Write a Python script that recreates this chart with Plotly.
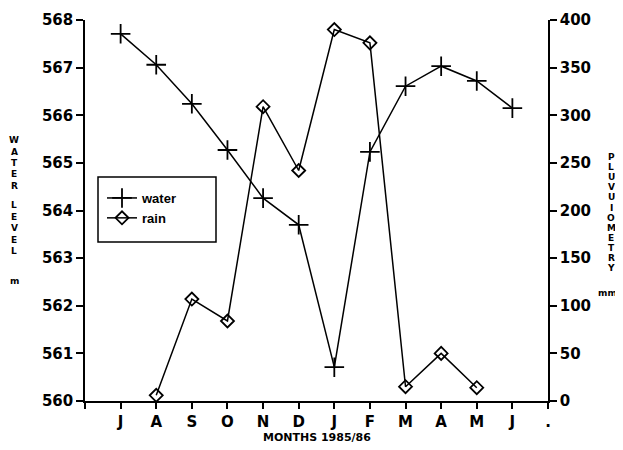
import plotly.graph_objects as go

months = ["J", "A", "S", "O", "N", "D", "J", "F", "M", "A", "M", "J", "."]
month_pos = list(range(1, 14))
water_level = [567.71, 567.06, 566.24, 565.27, 564.26, 563.70, 560.71, 565.23, 566.61, 567.03, 566.72, 566.15]
rain_mm = [None, 6, 107, 84, 309, 242, 390, 376, 15, 50, 14]
water_x = month_pos[:12]
rain_x = month_pos[:11]

FONT = "DejaVu Sans, Liberation Sans, Arial, sans-serif"
FONT2 = "Liberation Sans, Arial, Helvetica, sans-serif"

# page body has an 8px margin: figure is shrunk so the plot lands where the reference has it
OFF = 8
PL, PR, PT, PB = 85, 548, 20, 401  # plot area in page pixels
W, H = 623 - OFF, 450 - OFF

def px(xp):
    return (xp - PL) / (PR - PL)

def py(yp):
    return 1 - (yp - PT) / (PB - PT)

fig = go.Figure()
fig.add_trace(go.Scatter(
    x=water_x, y=water_level, name="water", mode="lines+markers",
    line=dict(color="black", width=1.5),
    marker=dict(symbol="cross-thin", size=14, line=dict(color="black", width=1.8)),
    yaxis="y"))
fig.add_trace(go.Scatter(
    x=rain_x, y=rain_mm, name="rain", mode="lines+markers",
    line=dict(color="black", width=1.5),
    marker=dict(symbol="diamond-open", size=10, color="black", line=dict(color="black", width=1.8)),
    yaxis="y2"))

tickf = dict(family=FONT, size=15, color="black", weight="bold")
fig.update_layout(
    width=W, height=H,
    margin=dict(l=PL - OFF, r=W - (PR - OFF), t=PT - OFF, b=H - (PB - OFF), autoexpand=False),
    paper_bgcolor="white", plot_bgcolor="white",
    font=dict(family=FONT, color="black", size=15),
    showlegend=True,
    legend=dict(x=px(102), y=py(183), xanchor="left", yanchor="top",
                bgcolor="rgba(0,0,0,0)", borderwidth=0,
                font=dict(size=13, family=FONT2, color="black", weight="bold"),
                tracegroupgap=2),
    xaxis=dict(range=[0, 13], tickvals=[0] + month_pos, ticktext=[""] + months,
               showgrid=False, zeroline=False, showline=True, linecolor="black", linewidth=1.5,
               ticks="outside", ticklen=6, tickwidth=1.5, tickcolor="black",
               tickfont=tickf),
    yaxis=dict(range=[560, 568], dtick=1, showgrid=False, zeroline=False,
               showline=True, linecolor="black", linewidth=1.5,
               ticks="outside", ticklen=7, tickwidth=1.5, tickcolor="black",
               tickfont=tickf),
    yaxis2=dict(range=[0, 400], dtick=50, overlaying="y", side="right",
                showgrid=False, zeroline=False, showline=True, linecolor="black", linewidth=1.5,
                ticks="outside", ticklen=7, tickwidth=1.5, tickcolor="black",
                tickfont=tickf),
)

# legend box
fig.add_shape(type="rect", xref="paper", yref="paper",
              x0=px(98), x1=px(216), y0=py(242), y1=py(177),
              line=dict(color="black", width=1.5), fillcolor="rgba(0,0,0,0)")

letterf = dict(family=FONT, size=9, color="black", weight="bold")

def stacked(word, xp, y_first, step):
    for i, ch in enumerate(word):
        fig.add_annotation(text=ch, xref="paper", yref="paper", x=px(xp), y=py(y_first + i * step),
                           showarrow=False, font=letterf, xanchor="center", yanchor="middle")

stacked("WATER", 14, 140, 11.5)
stacked("LEVEL", 14, 205, 11.5)
stacked("m", 14, 281, 11.5)
stacked("PLUVUIOMETRY", 611, 157, 10.1)
fig.add_annotation(text="mm", xref="paper", yref="paper", x=px(607), y=py(293),
                   showarrow=False, font=dict(family=FONT, size=9, color="black", weight="bold"),
                   xanchor="center", yanchor="middle")

fig.add_annotation(text="MONTHS 1985/86", xref="paper", yref="paper",
                   x=px(317), y=py(438), showarrow=False,
                   font=dict(family=FONT, size=11, color="black", weight="bold"),
                   xanchor="center", yanchor="middle")

fig.write_html("out.html")
